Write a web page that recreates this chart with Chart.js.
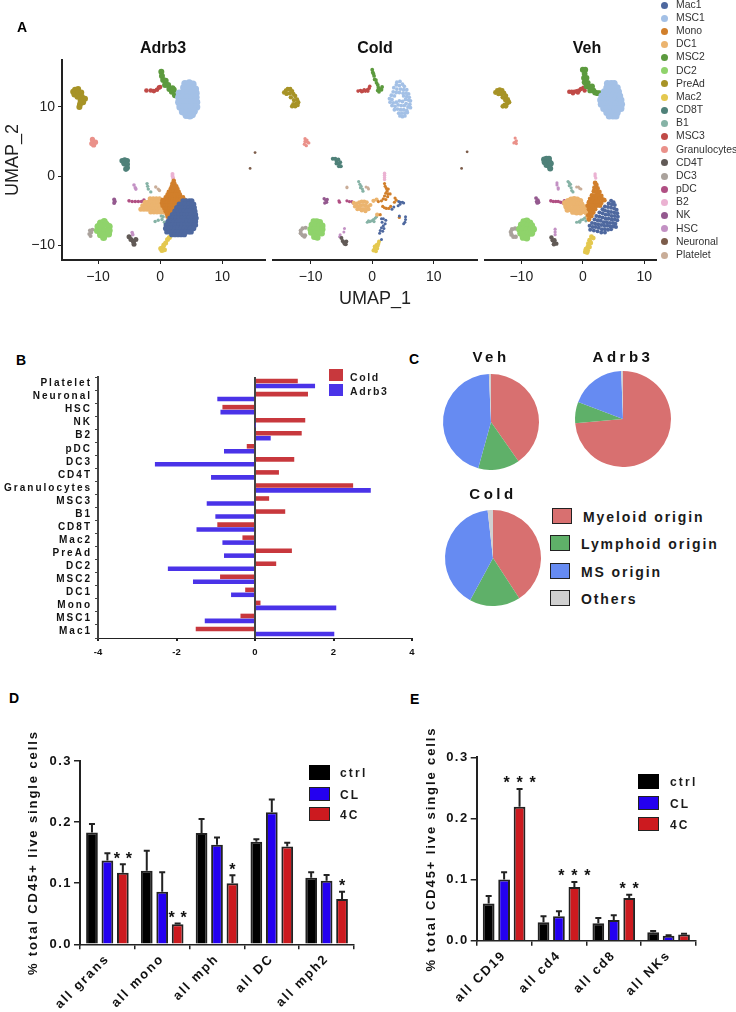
<!DOCTYPE html>
<html>
<head>
<meta charset="utf-8">
<script src="https://cdn.jsdelivr.net/npm/chart.js@4"></script>
<style>
html, body { margin: 0; background: #fff; }
#page { position: relative; width: 736px; height: 1012px; overflow: hidden; font-family: "Liberation Sans", Arial, sans-serif; color: #1a1a1a; }
#page canvas { position: absolute; }
.txt { position: absolute; white-space: nowrap; line-height: 1; }
.box { position: absolute; box-sizing: border-box; }
.dot { position: absolute; border-radius: 50%; width: 7px; height: 7px; }
</style>
</head>
<body>
<div id="page"></div>
<script>
const clusterNames = ['Mac1', 'MSC1', 'Mono', 'DC1', 'MSC2', 'DC2', 'PreAd', 'Mac2', 'CD8T', 'B1', 'MSC3', 'Granulocytes', 'CD4T', 'DC3', 'pDC', 'B2', 'NK', 'HSC', 'Neuronal', 'Platelet'];
const clusterColors = ['#4e689f', '#a3c0e6', '#d17f2b', '#ebb46f', '#5c9a3e', '#8fd36b', '#a79326', '#e4c84f', '#4f8179', '#86b3a6', '#c04a47', '#ea918a', '#615a56', '#aaa29c', '#b04f83', '#ebb2d2', '#94598f', '#c391c4', '#7c5c4a', '#c9ad98'];

// UMAP, Adrb3 panel
const adrb3Mac1 = [[3.7,-3.6],[4.2,-3.6],[4.7,-3.6],[5.1,-3.6],[3.1,-4.1],[3.6,-4.1],[4.1,-4.1],[4.6,-4.1],[5.1,-4.1],[5.4,-4.1],[2.7,-4.6],[3.2,-4.6],[3.7,-4.6],[4.2,-4.6],[4.7,-4.6],[5.2,-4.6],[5.5,-4.6],[2.4,-5.1],[2.9,-5.1],[3.4,-5.1],[3.9,-5.1],[4.4,-5.1],[4.9,-5.1],[5.4,-5.1],[5.6,-5.1],[2,-5.6],[2.5,-5.6],[3,-5.6],[3.5,-5.6],[4,-5.6],[4.5,-5.6],[5,-5.6],[5.5,-5.6],[5.7,-5.6],[1.6,-6.1],[2.1,-6.1],[2.6,-6.1],[3.1,-6.1],[3.6,-6.1],[4.1,-6.1],[4.6,-6.1],[5.1,-6.1],[5.6,-6.1],[5.8,-6.1],[1.3,-6.6],[1.8,-6.6],[2.3,-6.6],[2.8,-6.6],[3.3,-6.6],[3.8,-6.6],[4.3,-6.6],[4.8,-6.6],[5.3,-6.6],[5.7,-6.6],[1,-7.1],[1.5,-7.1],[2,-7.1],[2.5,-7.1],[3,-7.1],[3.5,-7.1],[4,-7.1],[4.5,-7.1],[5,-7.1],[5.5,-7.1],[5.7,-7.1],[.9,-7.6],[1.4,-7.6],[1.9,-7.6],[2.4,-7.6],[2.9,-7.6],[3.4,-7.6],[3.9,-7.6],[4.4,-7.6],[4.9,-7.6],[5.4,-7.6],[1.1,-8.1],[1.6,-8.1],[2.1,-8.1],[2.6,-8.1],[3.1,-8.1],[3.6,-8.1],[4.1,-8.1],[4.6,-8.1],[5,-8.1],[1.9,-8.5],[2.4,-8.5],[2.9,-8.5],[3.4,-8.5],[3.9,-8.5]];
const adrb3MSC1 = [[4,13.4],[4.7,13.5],[5.3,13.3],[3.8,12.8],[4.5,12.8],[5.2,12.8],[5.7,12.6],[3.1,12],[3.8,12.1],[4.5,12.1],[5.2,12.1],[5.8,12],[3,11.4],[3.7,11.4],[4.4,11.4],[5.1,11.4],[5.8,11.4],[3,10.7],[3.7,10.7],[4.4,10.7],[5.1,10.7],[5.9,10.7],[3.2,10],[3.9,10],[4.6,10],[5.3,10],[5.9,10],[3.6,9.3],[4.3,9.3],[5,9.3],[5.5,9.4],[4.2,8.8],[4.8,8.7],[5.2,8.9]];
const adrb3Mono = [[2.2,-.7],[2,-1.1],[2.3,-1.1],[1.9,-1.5],[2.3,-1.5],[2.6,-1.5],[1.7,-1.9],[2.1,-1.9],[2.5,-1.9],[2.8,-1.9],[1.4,-2.3],[1.8,-2.3],[2.2,-2.3],[2.6,-2.3],[3,-2.3],[1.2,-2.7],[1.6,-2.7],[2,-2.7],[2.4,-2.7],[2.8,-2.7],[3.2,-2.7],[.9,-3.1],[1.3,-3.1],[1.7,-3.1],[2.1,-3.1],[2.5,-3.1],[2.9,-3.1],[3.3,-3.1],[3.7,-3.1],[.4,-3.5],[.8,-3.5],[1.2,-3.5],[1.6,-3.5],[2,-3.5],[2.4,-3.5],[2.8,-3.5],[3.2,-3.5],[3.6,-3.5],[4,-3.5],[.3,-3.9],[.7,-3.9],[1.1,-3.9],[1.5,-3.9],[1.9,-3.9],[2.3,-3.9],[2.7,-3.9],[3.1,-3.9],[3.5,-3.9],[.4,-4.3],[.8,-4.3],[1.2,-4.3],[1.6,-4.3],[2,-4.3],[2.4,-4.3],[2.8,-4.3],[.7,-4.7],[1.1,-4.7],[1.5,-4.7],[1.9,-4.7],[2.3,-4.7],[.9,-5.1],[1.3,-5.1],[1.7,-5.1],[2.1,-5.1],[1.1,-5.5],[1.5,-5.5],[1.8,-5.5],[1.2,-5.9],[1.5,-5.9]];
const adrb3DC1 = [[-1.6,-3.3],[-1.1,-3.3],[-.6,-3.3],[-.1,-3.3],[-2.4,-3.8],[-1.9,-3.8],[-1.4,-3.8],[-.9,-3.8],[-.4,-3.8],[.1,-3.8],[-2.8,-4.3],[-2.3,-4.3],[-1.8,-4.3],[-1.3,-4.3],[-.8,-4.3],[-.3,-4.3],[.2,-4.3],[-3.1,-4.8],[-2.6,-4.8],[-2.1,-4.8],[-1.6,-4.8],[-1.1,-4.8],[-.6,-4.8],[-.1,-4.8],[.4,-4.8],[-1.5,-5.2],[-1,-5.2],[-.5,-5.2],[0,-5.2],[.5,-5.2],[.7,-5.2]];
const adrb3MSC2 = [[.2,15.1],[.3,14.5],[.5,13.9],[.9,13.8],[.8,13.2],[1.3,13.2],[1.5,12.6],[2,12.7],[1.9,12.2],[2.2,12.5],[2.4,11.7],[3.4,11.6],[3.7,11.1]];
const adrb3DC2 = [[-9.6,-6.8],[-9,-6.6],[-10,-7.3],[-9.4,-7.2],[-8.7,-7],[-8.2,-7.3],[-10.1,-7.9],[-9.6,-7.9],[-8.9,-7.9],[-8.2,-7.9],[-9.6,-8.5],[-9,-8.6],[-8.3,-8.4],[-9.1,-8.9]];
const adrb3PreAd = [[-14,12.2],[-13.7,12.5],[-13.2,12.6],[-13.8,11.8],[-13.2,12],[-12.7,12.1],[-12.6,11.5],[-12.1,11.2],[-12.4,10.7],[-12.8,10.9],[-12.9,10.4],[-13.3,11.5],[-13,10]];
const adrb3Mac2 = [[1.5,-8.9],[1.2,-9.2],[.9,-9.7],[.6,-10],[.4,-10.4],[.3,-10.8],[.7,-10.7],[.1,-10.5]];
const adrb3CD8T = [[-6.1,2.2],[-5.7,2.3],[-5.3,2.2],[-5.8,1.8],[-5.3,1.7],[-5.3,1.2],[-5.5,1]];
const adrb3B1 = [[-2.1,-1.1],[-2,-1.5],[-1.9,-1.9],[-1.5,-2.3],[-.8,-6.6],[-.3,-6.4],[.3,-6.3],[.5,-5.9],[.7,-6.7],[.9,-7],[.2,-5.8],[3,-4]];
const adrb3MSC3 = [[-2.2,12.4],[-1.5,12.4],[-1,12.3],[-.5,12.5],[-.2,12.8],[0,12.9]];
const adrb3Gran = [[-10.9,5.3],[-10.8,4.9],[-10.4,4.9],[-11,4.7],[-10.7,4.5]];
const adrb3CD4T = [[-5,-8.8],[-4.7,-9.2],[-4.3,-9.5],[-4.2,-9.9],[-3.9,-9.2]];
const adrb3DC3 = [[-11.3,-7.9],[-11.1,-8.2],[-11.4,-8.4],[-11.2,-8.7],[-10.9,-7.8]];
const adrb3pDC = [[-5,-3.6],[-4.5,-3.7],[-4,-3.7],[-3.5,-3.7],[-3,-3.7],[-2.6,-3.5]];
const adrb3B2 = [[2,0],[2.1,-.3],[2,.3]];
const adrb3NK = [[-7.4,-3.4],[-7.3,-3.7],[-7.4,-3.9]];
const adrb3HSC = [[-4.2,-1.3],[-4,-1.7],[-3.9,-1.9],[-4.5,-8.2],[-4.4,-8.5],[-4.8,-9]];
const adrb3Neuronal = [[15.3,3.4],[14.5,1.1]];
const adrb3Platelet = [[-.7,-1.6],[-.3,-1.9],[-.1,-2.1]];

// UMAP, Cold panel
const coldMac1 = [[4.3,-3.7],[4.6,-3.8],[4.9,-3.8],[5.1,-3.9],[4.5,-4.1],[4.2,-4.3],[3.5,-4.5],[3.2,-4.8],[4.4,-5.8],[5.4,-5.9],[5.4,-6.3],[5.3,-6.7],[5.1,-6.9],[1.5,-6.2],[1.8,-6.2],[2.2,-6.4],[1.6,-6.7],[2.1,-6.9],[1.8,-7.2],[1.5,-7.5],[1.9,-7.6],[1.3,-7.9],[1.7,-8],[1.2,-8.3],[1.5,-9.2]];
const coldMSC1 = [[4,13.6],[4.5,13.7],[3.9,13.2],[4.4,13.1],[4.9,13.3],[5.2,13],[3.5,12.8],[4,12.6],[4.6,12.6],[5.1,12.5],[5.6,12.5],[3.4,12.2],[3.9,12.1],[4.4,12.1],[5,12],[5.5,12],[5.9,11.9],[3.1,11.7],[3.6,11.6],[5.1,11.6],[5.6,11.5],[6,11.4],[2.8,11.2],[3.2,11.1],[5.4,11.1],[5.9,11],[6.2,10.9],[2.9,10.7],[3.4,10.6],[3.9,10.7],[4.4,10.9],[4.9,10.8],[5.5,10.5],[6.1,10.4],[3.2,10.2],[3.7,10.1],[4.2,10.3],[4.7,10.2],[5.2,10.2],[5.8,10],[6.2,9.9],[3.6,9.6],[4.1,9.7],[4.6,9.6],[5.1,9.6],[5.6,9.5],[4.3,9.1],[4.8,9.1],[5.3,9.1],[5.7,9.2],[4.5,8.7],[4.9,8.6],[5.3,8.7]];
const coldMono = [[2,-1.1],[2.1,-1.5],[2.3,-1.8],[2.6,-1.9],[2.4,-2.2],[2.2,-2.5],[2.6,-2.6],[2.9,-2.6],[2,-2.9],[2.5,-3],[1.8,-3.3],[2.2,-3.4],[1.5,-3.6],[3.7,-3.2],[3.9,-3.5],[3.6,-3.8],[1.7,-4.4],[2,-4.6],[2.3,-4.7],[2.7,-4.7],[3,-4.4],[1,-3.7],[4.4,-6],[1.3,-5.6]];
const coldDC1 = [[-3,-3.9],[-2.5,-4],[-2.1,-3.8],[-1.7,-3.7],[-1.3,-3.7],[-.9,-3.8],[-2.8,-4.4],[-2.3,-4.4],[-1.9,-4.3],[-1.5,-4.2],[-1.1,-4.3],[-.7,-4.4],[-.3,-4.2],[-2.4,-4.8],[-1.9,-4.8],[-1.5,-4.8],[-1.1,-4.8],[-.6,-4.8],[-1.7,-5],[-1.1,-5.1],[.2,-3.6],[.7,-3.4],[.8,-5.6]];
const coldMSC2 = [[0,15.4],[.1,15],[.3,14.5],[.4,14],[.7,13.5],[.9,13.2],[1,12.8],[1.3,12.6],[.9,12.4],[1.6,12.9],[1.5,12.5],[1.1,12.2],[.6,13.9],[.2,14.8]];
const coldDC2 = [[-9.5,-6.6],[-9,-6.6],[-8.5,-6.7],[-9.8,-7.1],[-9.2,-7.1],[-8.6,-7.2],[-8.1,-7.2],[-10,-7.7],[-9.4,-7.7],[-8.8,-7.8],[-8.1,-7.7],[-9.9,-8.2],[-9.3,-8.3],[-8.7,-8.3],[-8.2,-8.3],[-9.4,-8.8],[-8.9,-8.9]];
const coldPreAd = [[-14.3,12.1],[-14,12.4],[-13.7,12.6],[-13.3,12.6],[-13,12.3],[-13.9,11.9],[-13.4,12],[-12.8,11.9],[-12.5,11.6],[-13.2,11.4],[-12.2,11.1],[-12.7,11],[-12,10.7],[-12.3,10.5],[-12.8,10.4],[-13,10.1],[-12.5,10.1],[-12.1,10.3]];
const coldMac2 = [[1.1,-9.5],[1,-9.8],[.7,-10],[.4,-10.2],[.8,-10.5],[.4,-10.5],[.2,-10.8],[.6,-10.9],[.9,-10.1]];
const coldCD8T = [[-6.4,2.5],[-6,2.5],[-5.8,2.2],[-5.5,2.4],[-5.8,1.8],[-5.4,1.8],[-5.2,2],[-5.4,1.4],[-5.1,1.4]];
const coldB1 = [[-2.2,-.8],[-2,-1.2],[-1.8,-1.5],[-1.6,-1.9],[-1.5,-2.2],[-1.9,-1.7],[-.8,-6.7],[-.4,-6.6],[-.1,-6.5],[.2,-6.3],[.5,-6.1],[-.6,-6.5],[.3,-6.6],[.7,-5.9]];
const coldMSC3 = [[-2.3,12.3],[-1.9,12.4],[-1.5,12.3],[-1.1,12.3],[-.8,12.5],[-.5,12.7],[-.4,13],[-1.7,12.2],[-1.3,12.5],[-.7,12.3]];
const coldGran = [[-10.9,5.4],[-10.6,5.2],[-10.9,5],[-10.5,4.9],[-11,4.6],[-10.7,4.4],[-10.3,4.8]];
const coldCD4T = [[-5,-9],[-4.8,-9.4],[-4.6,-9.6],[-4.2,-9.5],[-4.3,-9.9],[-4.5,-9.8]];
const coldDC3 = [[-11.3,-7.6],[-11.6,-7.9],[-11.6,-8.3],[-11.3,-8.6],[-11,-8.8],[-10.8,-7.5],[-10.9,-8.6]];
const coldpDC = [[-5.4,-3.6],[-5.3,-3.8],[-4.1,-3.6],[-3.7,-3.7],[-3.3,-3.7],[-3.1,-3.9]];
const coldB2 = [[2,.4],[2,.1],[2,-.2],[2,-.5]];
const coldNK = [[-7.8,-3.3],[-7.5,-3.5],[-7.4,-3.8],[-7.7,-3.9],[-7.3,-3.4]];
const coldHSC = [[-4.5,-7.6],[-4.6,-8.1],[-5.2,-8.5],[-5.3,-8.8],[-5,-8.9]];
const coldNeuronal = [[15.4,3.5],[14.5,1.1]];
const coldPlatelet = [[-1,-1.6],[-.7,-1.7],[-.6,-1.9],[-4.1,-1.6],[-4.1,-1.7]];

// UMAP, Veh panel
const vehMac1 = [[4.6,-3.6],[5,-3.8],[4.2,-4],[4.7,-4.1],[5.2,-4.2],[3.6,-4.4],[4.1,-4.5],[4.6,-4.6],[5.1,-4.7],[5.5,-4.9],[3.2,-4.8],[3.6,-5],[4.1,-5.1],[4.6,-5.2],[5.1,-5.3],[5.6,-5.4],[2.7,-5.3],[3.2,-5.4],[3.7,-5.6],[4.2,-5.6],[4.7,-5.8],[5.2,-5.8],[5.7,-5.9],[2.2,-5.8],[2.7,-5.9],[3.2,-6],[3.7,-6.2],[4.2,-6.2],[4.7,-6.3],[5.2,-6.3],[5.6,-6.4],[1.9,-6.3],[2.4,-6.4],[2.9,-6.5],[3.4,-6.7],[3.9,-6.7],[4.4,-6.8],[4.9,-6.8],[5.3,-6.9],[1.5,-6.8],[2,-6.9],[2.5,-7],[3,-7.1],[3.5,-7.2],[4,-7.2],[4.5,-7.3],[5,-7.3],[5.4,-7.4],[1.1,-7.2],[1.6,-7.4],[2.1,-7.4],[2.6,-7.5],[3.1,-7.7],[3.6,-7.7],[4.1,-7.8],[4.6,-7.7],[1.2,-7.8],[1.8,-7.9],[2.4,-8],[3,-8.2],[3.6,-8.2]];
const vehMSC1 = [[4,13.4],[4.6,13.4],[5.1,13.4],[3.9,12.8],[4.5,12.8],[5.1,12.8],[5.6,12.8],[3.5,12.2],[4.1,12.2],[4.7,12.2],[5.3,12.2],[5.8,12.2],[3.1,11.6],[3.7,11.6],[4.3,11.6],[4.9,11.6],[5.5,11.6],[6,11.6],[2.9,11],[3.5,11],[4.1,11],[4.7,11],[5.3,11],[5.9,11],[6.2,11],[3,10.4],[3.6,10.4],[4.2,10.4],[4.8,10.4],[5.4,10.4],[6,10.4],[6.3,10.4],[3.4,9.8],[4,9.8],[4.6,9.8],[5.2,9.8],[5.8,9.8],[6.2,9.8],[3.9,9.2],[4.5,9.2],[5.1,9.2],[5.6,9.2],[4.3,8.7],[4.9,8.7],[5.4,8.7]];
const vehMono = [[2,-1],[2.2,-1.3],[1.9,-1.7],[2.4,-1.8],[1.8,-2.2],[2.3,-2.3],[2.7,-2.3],[1.5,-2.8],[2,-2.8],[2.5,-2.8],[3,-2.9],[1.2,-3.3],[1.7,-3.3],[2.2,-3.3],[2.7,-3.3],[3.2,-3.4],[1,-3.8],[1.5,-3.8],[2,-3.8],[2.5,-3.8],[3,-3.9],[3.5,-3.5],[.8,-4.3],[1.3,-4.3],[1.8,-4.3],[2.3,-4.3],[2.8,-4.3],[1,-4.8],[1.5,-4.8],[2,-4.8],[1.2,-5.2],[1.7,-5.3],[.9,-5.7],[1.4,-5.8],[1,-6.3]];
const vehDC1 = [[-2.9,-3.9],[-2.4,-3.6],[-1.9,-3.4],[-1.4,-3.3],[-.9,-3.4],[-.4,-3.6],[-2.7,-4.4],[-2.2,-4.2],[-1.7,-4],[-1.2,-4],[-.7,-4],[-.2,-4.1],[-2.5,-4.9],[-2,-4.8],[-1.5,-4.7],[-1,-4.7],[-.5,-4.7],[0,-4.7],[.4,-4.5],[-1.6,-5.2],[-1,-5.3],[-.4,-5.3],[.2,-5.1],[.6,-5.3],[.9,-5.9]];
const vehMSC2 = [[0,15.4],[.4,15.4],[.3,14.8],[.2,14.2],[.6,14.2],[.3,13.6],[.8,13.5],[.6,13],[1.1,12.9],[1.2,12.4],[1.7,12.4],[2,12.1],[2.4,12],[1.5,13],[2.7,12]];
const vehDC2 = [[-9.6,-6.6],[-9.1,-6.5],[-8.6,-6.8],[-10,-7.1],[-9.5,-7.1],[-8.9,-7.2],[-8.3,-7.2],[-10.3,-7.7],[-9.7,-7.7],[-9.1,-7.8],[-8.5,-7.8],[-8,-7.7],[-10.1,-8.3],[-9.5,-8.4],[-8.9,-8.4],[-8.3,-8.3],[-9.7,-8.9],[-9.1,-9]];
const vehPreAd = [[-14.2,12.1],[-13.9,12.4],[-13.5,12.5],[-13.1,12.4],[-13.7,11.9],[-13.2,11.9],[-12.8,12],[-12.5,11.6],[-13,11.4],[-12.2,11.1],[-12.6,11],[-12,10.7],[-12.3,10.5],[-12.7,10.3],[-13,10.1],[-12.5,10.1]];
const vehMac2 = [[1.4,-8.8],[1.7,-9],[1.1,-9.3],[1.3,-9.7],[.9,-9.8],[.8,-10.3],[1.1,-10.3],[.5,-10.6],[.8,-10.8],[.4,-11],[.7,-11.1]];
const vehCD8T = [[-6.3,2.4],[-5.9,2.5],[-5.5,2.5],[-6.2,2],[-5.8,2],[-5.4,2],[-5.9,1.6],[-5.5,1.5],[-5.2,1.8],[-5.3,1.1]];
const vehB1 = [[-2.4,-.8],[-2.2,-1],[-2.2,-1.4],[-1.9,-1.7],[-1.8,-2.1],[-1.6,-2.3],[-2,-1.2],[-1,-6.7],[-.6,-6.6],[-.3,-6.4],[0,-6.3],[.3,-6.1],[.6,-5.9],[-.5,-6.7],[.5,-6.5]];
const vehMSC3 = [[-2.2,12.2],[-1.8,12.2],[-1.4,12.2],[-1,12.3],[-.6,12.4],[-.3,12.6],[.1,12.8],[-1.6,12],[-.8,12.1],[.3,12.4]];
const vehGran = [[-11,5.5],[-10.8,5.1],[-11,4.9],[-10.8,4.7],[-11.2,4.8]];
const vehCD4T = [[-5.1,-8.9],[-4.9,-9.3],[-4.6,-9.3],[-4.6,-9.7],[-4.3,-9.8],[-4.7,-9.9]];
const vehDC3 = [[-11.5,-7.7],[-11.7,-8.1],[-11.6,-8.5],[-11.3,-8.8],[-10.9,-8.8],[-11,-7.6]];
const vehpDC = [[-5.2,-3.6],[-4.8,-3.7],[-4.4,-3.7],[-4,-3.7],[-3.6,-3.8],[-3.2,-3.9],[-3,-3.6]];
const vehB2 = [[2,.3],[2,0],[2.1,-.3]];
const vehNK = [[-7.6,-3.2],[-7.3,-3.5],[-7.5,-3.7],[-7.2,-3.8],[-7.4,-3.9]];
const vehHSC = [[-4.2,-1],[-4.2,-1.3],[-4,-1.7],[-4,-1.9],[-4.5,-7.7],[-4.5,-8.1],[-4.5,-8.5]];
const vehNeuronal = [];
const vehPlatelet = [[-1,-1.6],[-.7,-1.6],[-.5,-1.8],[-.3,-1.9]];

// panel B
const foldCategories = ['Platelet', 'Neuronal', 'HSC', 'NK', 'B2', 'pDC', 'DC3', 'CD4T', 'Granulocytes', 'MSC3', 'B1', 'CD8T', 'Mac2', 'PreAd', 'DC2', 'MSC2', 'DC1', 'Mono', 'MSC1', 'Mac1'];
const foldCold = [1.09, 1.35, -.83, 1.28, 1.19, -.21, 1.0, .61, 2.5, .36, .77, -.96, -.32, .94, .54, -.89, -.25, .14, -.37, -1.51];
const foldAdrb3 = [1.53, -.96, -.88, .01, .40, -.79, -2.55, -1.12, 2.95, -1.23, -1.01, -1.49, -.83, -.79, -2.22, -1.58, -.61, 2.07, -1.28, 2.02];

// panel C
const originLabels = ['Myeloid origin', 'Lymphoid origin', 'MS origin', 'Others'];
const originVeh = [40.3, 14, 45, .7];
const originAdrb3 = [73.6, 7.2, 18.6, .6];
const originCold = [40.8, 17.1, 40.3, 1.8];

// panel D
const dCategories = ['all grans', 'all mono', 'all mph', 'all DC', 'all mph2'];
const dCtrl = [.183, .1205, .182, .168, .109];
const dCL = [.137, .086, .163, .216, .104];
const d4C = [.117, .033, .1, .16, .074];
const dCtrlTop = [.197, .153, .205, .172, .118];
const dCLTop = [.149, .118, .175, .237, .1135];
const d4CTop = [.131, .034, .113, .166, .086];
const dStars = ['**', '**', '*', '', '*'];

// panel E
const eCategories = ['all CD19', 'all cd4', 'all cd8', 'all NKs'];
const eCtrl = [.061, .03, .0285, .014];
const eCL = [.1, .04, .034, .008];
const e4C = [.219, .088, .07, .01];
const eCtrlTop = [.073, .04, .037, .016];
const eCLTop = [.112, .048, .0415, .009];
const e4CTop = [.248, .096, .075, .0115];
const eStars = ['***', '***', '**', ''];

const groupNames = ['ctrl', 'CL', '4C'];
const groupColors = ['#000000', '#2400f0', '#cc1a1f'];
const originColors = ['#d87070', '#5fb069', '#668bf2', '#d0d0d0'];
const FONT = '"Liberation Sans", Arial, sans-serif';

Chart.defaults.animation = false;
Chart.defaults.font.family = FONT;
Chart.defaults.color = '#1a1a1a';
Chart.defaults.plugins.legend.display = false;
Chart.defaults.plugins.tooltip.enabled = false;

const page = document.getElementById('page');

function addCanvas(left, top, w, h) {
    const c = document.createElement('canvas');
    c.width = w;
    c.height = h;
    c.style.left = left + 'px';
    c.style.top = top + 'px';
    c.style.width = w + 'px';
    c.style.height = h + 'px';
    page.appendChild(c);
    return c;
}

function addText(s, x, y, css) {
    const t = document.createElement('div');
    t.className = 'txt';
    t.textContent = s;
    t.style.cssText = 'left:' + x + 'px;top:' + y + 'px;' + (css || '');
    page.appendChild(t);
}

function addBox(x, y, w, h, color, border, bw) {
    const b = document.createElement('div');
    b.className = 'box';
    b.style.cssText = 'left:' + x + 'px;top:' + y + 'px;width:' + w + 'px;height:' + h + 'px;background:' + color + ';' + (border ? 'border:' + bw + 'px solid ' + border + ';' : '');
    page.appendChild(b);
}

// axis boxes get a fixed size so the plot areas land where they should
function pinWidth(w) {
    return s => { s.width = w; s.paddingTop = 0; s.paddingBottom = 0; };
}
function pinHeight(h) {
    return s => { s.height = h; s.paddingLeft = 0; s.paddingRight = 0; };
}

// canvas letter spacing for the Prism style labels, with a per axis override for tick labels
const tracking = {
    id: 'tracking',
    beforeUpdate(chart, args, opts) { chart.ctx.letterSpacing = (opts.px || 0) + 'px'; },
    beforeLayout(chart, args, opts) { chart.ctx.letterSpacing = (opts.px || 0) + 'px'; },
    beforeDraw(chart, args, opts) {
        chart.ctx.letterSpacing = (opts.px || 0) + 'px';
        Object.entries(opts.ticks || {}).forEach(([id, px]) => {
            const scale = chart.scales[id];
            if (scale._tracked) return;
            scale._tracked = true;
            const draw = scale.drawLabels;
            scale.drawLabels = function (area) {
                chart.ctx.letterSpacing = px + 'px';
                draw.call(scale, area);
                chart.ctx.letterSpacing = (opts.px || 0) + 'px';
            };
        });
    }
};

const errorBars = {
    id: 'errorBars',
    afterDatasetsDraw(chart, args, opts) {
        const ctx = chart.ctx;
        const y = chart.scales.y;
        opts.tops.forEach((tops, i) => {
            const meta = chart.getDatasetMeta(i);
            meta.data.forEach((bar, j) => {
                const top = y.getPixelForValue(tops[j]);
                ctx.save();
                ctx.strokeStyle = '#222';
                ctx.lineWidth = 2;
                ctx.beginPath();
                ctx.moveTo(bar.x, bar.y);
                ctx.lineTo(bar.x, top);
                ctx.moveTo(bar.x - 3, top);
                ctx.lineTo(bar.x + 3, top);
                ctx.stroke();
                if (i === opts.tops.length - 1 && opts.stars[j]) {
                    ctx.letterSpacing = '0px';
                    ctx.fillStyle = '#111';
                    ctx.font = 'bold 16px ' + FONT;
                    ctx.textAlign = 'center';
                    ctx.textBaseline = 'middle';
                    const n = opts.stars[j].length;
                    for (let k = 0; k < n; k++) {
                        ctx.fillText('*', bar.x + (k - (n - 1) / 2) * opts.starGap, top - 5);
                    }
                }
                ctx.restore();
            });
        });
    }
};

function umapChart(canvas, clusters, radii, xMin, xMax, pad, showY, showXTitle) {
    const datasets = clusters.map((pts, i) => ({
        label: clusterNames[i],
        data: pts.map(p => ({ x: p[0], y: p[1] })),
        backgroundColor: clusterColors[i],
        borderWidth: 0,
        pointRadius: radii[i]
    }));
    const tickFmt = v => String(v).replace('-', '\u2212');
    return new Chart(canvas, {
        type: 'scatter',
        data: { datasets },
        options: {
            responsive: false,
            layout: { padding: pad },
            scales: {
                x: {
                    min: xMin, max: xMax,
                    afterFit: pinHeight(50),
                    border: { color: '#222', width: 2 },
                    grid: { drawOnChartArea: false, tickLength: 4, tickColor: '#222' },
                    ticks: { stepSize: 10, includeBounds: false, padding: 5, maxRotation: 0, color: '#222', font: { size: 14 }, callback: tickFmt },
                    title: { display: showXTitle, text: 'UMAP_1', color: '#222', font: { size: 18 }, padding: { top: 0, bottom: 0 } }
                },
                y: {
                    display: showY,
                    min: -12.17, max: 16.81,
                    afterFit: pinWidth(showY ? 62 : 0),
                    border: { color: '#222', width: 2 },
                    grid: { drawOnChartArea: false, tickLength: 4, tickColor: '#222' },
                    ticks: { stepSize: 10, includeBounds: false, padding: 3, color: '#222', font: { size: 14 }, callback: tickFmt },
                    title: { display: showY, text: 'UMAP_2', color: '#222', font: { size: 18 }, padding: { top: 2, bottom: 0 } }
                }
            }
        }
    });
}

const adrb3Radii = [2.7, 3.6, 2.3, 2.5, 3, 3.5, 3, 2.5, 2.8, 1.7, 2.3, 2.6, 2.5, 2, 1.8, 2, 2, 1.8, 1.4, 1.7];
const coldRadii = [1.5, 1.9, 1.6, 2.1, 1.9, 3.2, 2.2, 2, 2, 1.6, 1.8, 1.7, 2, 2.1, 1.6, 1.7, 1.7, 1.5, 1.4, 1.5];
const vehRadii = [2, 3.5, 2.4, 2.9, 2.9, 3.4, 2.4, 2.4, 3, 1.6, 2.2, 1.6, 2.2, 2.2, 1.8, 1.7, 1.9, 1.6, 1.4, 1.5];

umapChart(addCanvas(0, 30, 272, 280),
    [adrb3Mac1, adrb3MSC1, adrb3Mono, adrb3DC1, adrb3MSC2, adrb3DC2, adrb3PreAd, adrb3Mac2, adrb3CD8T, adrb3B1, adrb3MSC3, adrb3Gran, adrb3CD4T, adrb3DC3, adrb3pDC, adrb3B2, adrb3NK, adrb3HSC, adrb3Neuronal, adrb3Platelet],
    adrb3Radii, -15.8, 16.9, { left: 0, right: 7, top: 30, bottom: 0 }, true, false);
umapChart(addCanvas(268, 30, 214, 280),
    [coldMac1, coldMSC1, coldMono, coldDC1, coldMSC2, coldDC2, coldPreAd, coldMac2, coldCD8T, coldB1, coldMSC3, coldGran, coldCD4T, coldDC3, coldpDC, coldB2, coldNK, coldHSC, coldNeuronal, coldPlatelet],
    coldRadii, -16.1, 17, { left: 5, right: 5, top: 30, bottom: 0 }, false, true);
umapChart(addCanvas(480, 30, 181, 280),
    [vehMac1, vehMSC1, vehMono, vehDC1, vehMSC2, vehDC2, vehPreAd, vehMac2, vehCD8T, vehB1, vehMSC3, vehGran, vehCD4T, vehDC3, vehpDC, vehB2, vehNK, vehHSC, vehNeuronal, vehPlatelet],
    vehRadii, -15.9, 11.9, { left: 5, right: 5, top: 30, bottom: 0 }, false, false);

const umapTitleCss = 'font-size:16px;font-weight:bold;color:#111;transform:translateX(-50%);';
addText('Adrb3', 163, 40, umapTitleCss);
addText('Cold', 375, 40, umapTitleCss);
addText('Veh', 587, 40, umapTitleCss);

// cluster legend
clusterNames.forEach((name, i) => {
    const y = 5 + i * 13.16;
    const dot = document.createElement('div');
    dot.className = 'dot';
    dot.style.cssText = 'left:660.5px;top:' + (y - 3.5) + 'px;background:' + clusterColors[i];
    page.appendChild(dot);
    addText(name, 676, y - 5.2, 'font-size:10.4px;color:#333;');
});

// panel B
new Chart(addCanvas(0, 370, 425, 290), {
    type: 'bar',
    data: {
        labels: foldCategories,
        datasets: [
            { label: 'Cold', data: foldCold, backgroundColor: '#c8383d' },
            { label: 'Adrb3', data: foldAdrb3, backgroundColor: '#4a33e8' }
        ]
    },
    options: {
        indexAxis: 'y',
        responsive: false,
        datasets: { bar: { categoryPercentage: .76, barPercentage: .92 } },
        layout: { padding: { left: 0, right: 13, top: 7, bottom: 0 } },
        plugins: { tracking: { px: 2, ticks: { x: 0 } } },
        scales: {
            x: {
                min: -4, max: 4,
                afterFit: pinHeight(22),
                border: { color: '#222', width: 1 },
                grid: {
                    color: c => c.tick.value === 0 ? '#444' : 'transparent',
                    lineWidth: 2, tickLength: 3, tickColor: '#222'
                },
                ticks: { stepSize: 2, padding: 6, maxRotation: 0, color: '#111', font: { size: 9.5, weight: 'bold' } }
            },
            y: {
                afterFit: pinWidth(98),
                border: { color: '#444', width: 2 },
                grid: { drawOnChartArea: false, tickLength: 3, tickColor: '#444' },
                ticks: { autoSkip: false, padding: 3, color: '#111', font: { size: 10, weight: 'bold' } }
            }
        }
    },
    plugins: [tracking]
});
addBox(329, 369, 14, 11.5, '#c8383d');
addBox(329, 384, 14, 11.5, '#4a33e8');
addText('Cold', 350, 371.5, 'font-size:10.5px;font-weight:bold;letter-spacing:1.6px;');
addText('Adrb3', 350, 385.5, 'font-size:10.5px;font-weight:bold;letter-spacing:1.6px;');

// panel C
function originPie(left, top, title, values, padTop, padBottom) {
    new Chart(addCanvas(left, top, 110, 125), {
        type: 'pie',
        data: {
            labels: originLabels,
            datasets: [{ data: values, backgroundColor: originColors, borderWidth: 0 }]
        },
        options: {
            responsive: false,
            layout: { padding: { left: 7, right: 7, top: 0, bottom: 0 } },
            plugins: {
                tracking: { px: 3.5 },
                title: { display: true, text: title, color: '#111', font: { size: 15, weight: 'bold' }, padding: { top: padTop, bottom: padBottom } }
            }
        },
        plugins: [tracking]
    });
}
originPie(436, 345, 'Veh', originVeh, 3.4, 7.6);
originPie(568, 342, 'Adrb3', originAdrb3, 6.4, 4.6);
originPie(438, 481, 'Cold', originCold, 5, 6);

const originBoxY = [508, 535, 563, 590];
const originBoxX = [552, 550, 550, 550];
originLabels.forEach((name, i) => {
    addBox(originBoxX[i], originBoxY[i], 20, 15.5, originColors[i], '#222', 1.5);
    addText(name, i === 0 ? 583 : 581, originBoxY[i] + 2, 'font-size:14px;font-weight:bold;letter-spacing:1.9px;');
});

// panels D and E
function groupBars(canvas, labels, ctrl, cl, cold, tops, stars, starGap, leftAxis, rightPad, topPad, bottomAxis, titlePad) {
    const series = [ctrl, cl, cold];
    return new Chart(canvas, {
        type: 'bar',
        data: {
            labels,
            datasets: series.map((v, i) => ({
                label: groupNames[i],
                data: v,
                backgroundColor: groupColors[i],
                borderColor: '#222',
                borderWidth: 2
            }))
        },
        options: {
            responsive: false,
            datasets: { bar: { categoryPercentage: .845, barPercentage: .76 } },
            layout: { padding: { left: 0, right: rightPad, top: topPad, bottom: 0 } },
            plugins: {
                tracking: { px: 1.9, ticks: { y: 1.5 } },
                errorBars: { tops, stars, starGap }
            },
            scales: {
                x: {
                    afterFit: pinHeight(bottomAxis),
                    border: { color: '#222', width: 1.5 },
                    grid: { drawOnChartArea: false, tickLength: 5, tickColor: '#222', lineWidth: 1.5 },
                    ticks: { autoSkip: false, minRotation: 45, maxRotation: 45, padding: 2, color: '#111', font: { size: 13, weight: 'bold' } }
                },
                y: {
                    min: 0, max: .3,
                    afterFit: pinWidth(leftAxis),
                    border: { color: '#222', width: 2 },
                    grid: { drawOnChartArea: false, tickLength: 6, tickColor: '#222', lineWidth: 1.5 },
                    ticks: { stepSize: .1, padding: 2, color: '#111', font: { size: 13, weight: 'bold' }, callback: v => v.toFixed(1) },
                    title: { display: true, text: '% total CD45+ live single cells', color: '#111', font: { size: 13, weight: 'bold' }, padding: { top: titlePad, bottom: 0 } }
                }
            }
        },
        plugins: [tracking, errorBars]
    });
}

groupBars(addCanvas(0, 715, 365, 297), dCategories, dCtrl, dCL, d4C, [dCtrlTop, dCLTop, d4CTop], dStars, 12, 80, 11, 46, 67.7, 26);
groupBars(addCanvas(400, 715, 310, 297), eCategories, eCtrl, eCL, e4C, [eCtrlTop, eCLTop, e4CTop], eStars, 13, 76.7, 14, 42.3, 71.3, 24);

function barLegend(x, textX, ys) {
    groupNames.forEach((name, i) => {
        addBox(x, ys[i], 21, i === 0 ? 14.5 : 13.5, groupColors[i], i === 0 ? null : '#222', 1.5);
        addText(name, textX, ys[i] + 2, 'font-size:12px;font-weight:bold;letter-spacing:2.2px;');
    });
}
barLegend(309, 340, [765, 787, 807]);
barLegend(638, 670, [774, 796, 817]);

// panel letters
addText('A', 17, 20, 'font-size:14px;font-weight:bold;color:#000;');
addText('B', 16, 353, 'font-size:14px;font-weight:bold;color:#000;');
addText('C', 409, 352, 'font-size:14px;font-weight:bold;color:#000;');
addText('D', 9, 691, 'font-size:14px;font-weight:bold;color:#000;');
addText('E', 410, 692, 'font-size:14px;font-weight:bold;color:#000;');
</script>
</body>
</html>
